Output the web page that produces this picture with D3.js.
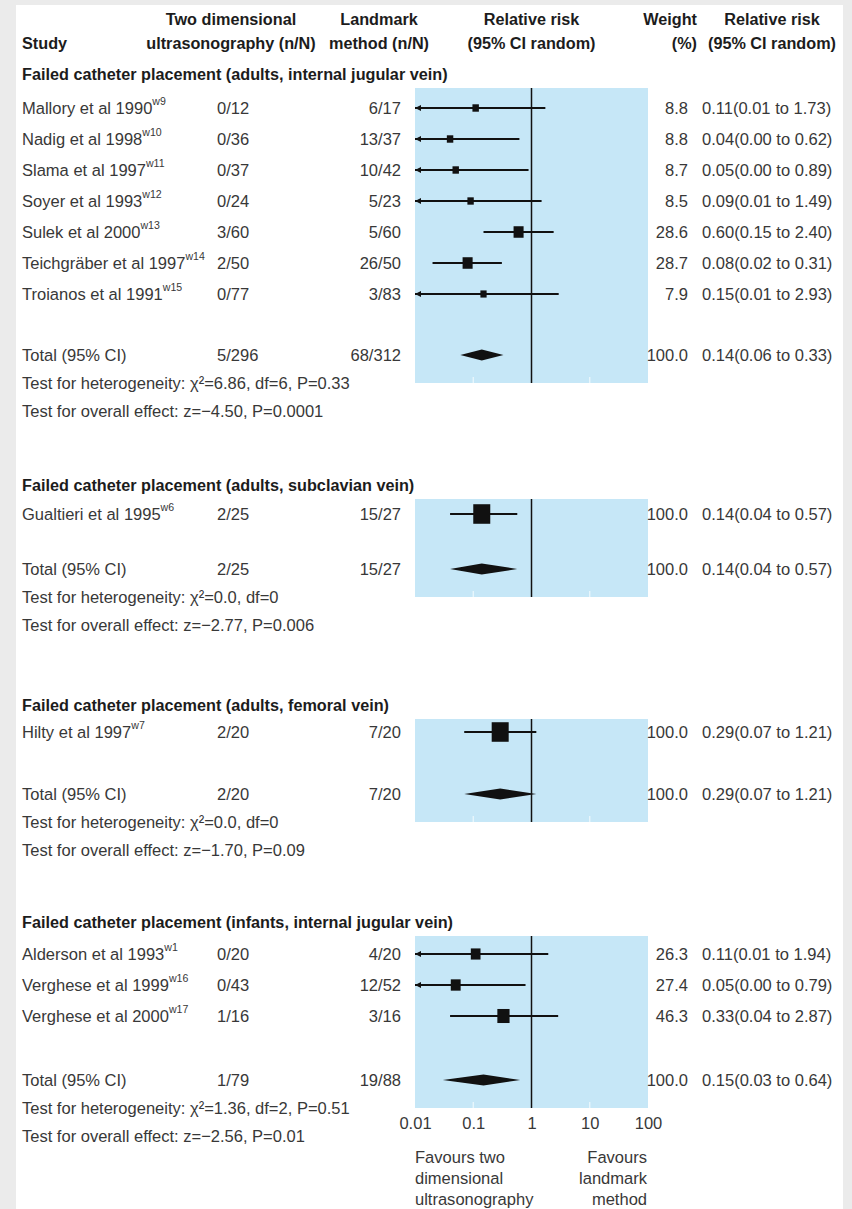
<!DOCTYPE html>
<html><head><meta charset="utf-8">
<script src="https://cdn.jsdelivr.net/npm/d3@7"></script>
<style>body{margin:0;background:#ebebeb} svg{display:block}</style>
</head><body><svg id="c" width="852" height="1209"></svg>
<script>
// ---------- data ----------
const groupTitles = [
  "Failed catheter placement (adults, internal jugular vein)",
  "Failed catheter placement (adults, subclavian vein)",
  "Failed catheter placement (adults, femoral vein)",
  "Failed catheter placement (infants, internal jugular vein)"
];
const studyGroup = [0,0,0,0,0,0,0,1,2,3,3,3];
const studyNames = ["Mallory et al 1990","Nadig et al 1998","Slama et al 1997","Soyer et al 1993","Sulek et al 2000","Teichgräber et al 1997","Troianos et al 1991","Gualtieri et al 1995","Hilty et al 1997","Alderson et al 1993","Verghese et al 1999","Verghese et al 2000"];
const studyRefs = ["w9","w10","w11","w12","w13","w14","w15","w6","w7","w1","w16","w17"];
const usEvents = ["0/12","0/36","0/37","0/24","3/60","2/50","0/77","2/25","2/20","0/20","0/43","1/16"];
const lmEvents = ["6/17","13/37","10/42","5/23","5/60","26/50","3/83","15/27","7/20","4/20","12/52","3/16"];
const studyWeight = [8.8,8.8,8.7,8.5,28.6,28.7,7.9,100.0,100.0,26.3,27.4,46.3];
const studyRR = [0.11,0.04,0.05,0.09,0.60,0.08,0.15,0.14,0.29,0.11,0.05,0.33];
const studyLow = [0.01,0.00,0.00,0.01,0.15,0.02,0.01,0.04,0.07,0.01,0.00,0.04];
const studyHigh = [1.73,0.62,0.89,1.49,2.40,0.31,2.93,0.57,1.21,1.94,0.79,2.87];

const totalUs = ["5/296","2/25","2/20","1/79"];
const totalLm = ["68/312","15/27","7/20","19/88"];
const totalWeight = [100.0,100.0,100.0,100.0];
const totalRR = [0.14,0.14,0.29,0.15];
const totalLow = [0.06,0.04,0.07,0.03];
const totalHigh = [0.33,0.57,1.21,0.64];
const hetText = ["Test for heterogeneity: χ²=6.86, df=6, P=0.33","Test for heterogeneity: χ²=0.0, df=0","Test for heterogeneity: χ²=0.0, df=0","Test for heterogeneity: χ²=1.36, df=2, P=0.51"];
const effectText = ["Test for overall effect: z=−4.50, P=0.0001","Test for overall effect: z=−2.77, P=0.006","Test for overall effect: z=−1.70, P=0.09","Test for overall effect: z=−2.56, P=0.01"];

const tickValues = [0.01,0.1,1,10,100];
const tickLabels = ["0.01","0.1","1","10","100"];
const favoursLeft = ["Favours two","dimensional","ultrasonography"];
const favoursRight = ["Favours","landmark","method"];

// ---------- layout ----------
const W = 852, H = 1209;
const titleY = [74, 485, 705, 922];
const firstRowY = [108, 514, 732, 954];
const rowStep = 31;
const totalY = [355, 569, 794, 1080];
const col = {study: 22, us: 217, lm: 401, plotL: 415, plotR: 648, weight: 688, rr: 702};

const svg = d3.select("#c");
svg.append("rect").attr("width", W).attr("height", H).attr("fill", "#ebebeb");
svg.append("rect").attr("x", 16).attr("y", 5).attr("width", 827).attr("height", H - 5).attr("fill", "#ffffff");

const FONT = "'Liberation Sans',Arial,Helvetica,sans-serif";
const FS = 17;
function measure(s, weight) {
  const t = svg.append("text").attr("font-family", FONT).attr("font-size", FS).attr("font-weight", weight).text(s);
  const w = t.node().getComputedTextLength(); t.remove(); return w;
}
const sxBody = 328 / measure(hetText[0], "normal");
const sxBold = 426 / measure(groupTitles[0], "bold");
const textCol = "#383838", boldCol = "#1c1c1c";

function txt(x, y, s, opts = {}) {
  return svg.append("text")
    .attr("transform", `translate(${x},${y}) scale(${opts.bold ? sxBold : sxBody},1)`)
    .attr("dy", "0.36em")
    .attr("font-family", FONT).attr("font-size", FS)
    .attr("font-weight", opts.bold ? "bold" : "normal")
    .attr("fill", opts.bold ? boldCol : textCol)
    .attr("text-anchor", opts.anchor || "start").text(s);
}

const x = d3.scaleLog().domain([0.01, 100]).range([col.plotL, col.plotR]);
const size = d3.scaleSqrt().domain([0, 100]).range([2, 17]);
const fmt = d3.format(".2f");

// header
const h1 = 19, h2 = 43;
txt(231, h1, "Two dimensional", {bold: true, anchor: "middle"});
txt(231, h2, "ultrasonography (n/N)", {bold: true, anchor: "middle"});
txt(379, h1, "Landmark", {bold: true, anchor: "middle"});
txt(379, h2, "method (n/N)", {bold: true, anchor: "middle"});
txt(x(1), h1, "Relative risk", {bold: true, anchor: "middle"});
txt(x(1), h2, "(95% CI random)", {bold: true, anchor: "middle"});
txt(697, h1, "Weight", {bold: true, anchor: "end"});
txt(697, h2, "(%)", {bold: true, anchor: "end"});
txt(772, h1, "Relative risk", {bold: true, anchor: "middle"});
txt(772, h2, "(95% CI random)", {bold: true, anchor: "middle"});
txt(col.study, h2, "Study", {bold: true});

// panels
groupTitles.forEach((g, gi) => {
  const top = titleY[gi] + 14, bot = totalY[gi] + 28;
  svg.append("rect").attr("x", x(0.01)).attr("y", top).attr("width", x(100) - x(0.01)).attr("height", bot - top).attr("fill", "#c6e7f7");
  [0.1, 10].forEach(t => svg.append("line").attr("x1", x(t)).attr("x2", x(t)).attr("y1", bot - 6).attr("y2", bot)
    .attr("stroke", "#eef8fd").attr("stroke-width", 1.2));
  svg.append("line").attr("x1", x(1)).attr("x2", x(1)).attr("y1", top).attr("y2", bot).attr("stroke", "#111").attr("stroke-width", 1.5);
  txt(col.study, titleY[gi], g, {bold: true});
});

// studies
const rowIdx = [0,0,0,0];
studyNames.forEach((name, i) => {
  const gi = studyGroup[i];
  const y = firstRowY[gi] + rowStep * rowIdx[gi]++;
  const t = txt(col.study, y, name);
  t.append("tspan").attr("font-size", FS * 0.64).attr("dy", "-0.8em").text(studyRefs[i]);
  txt(col.us, y, usEvents[i]);
  txt(col.lm, y, lmEvents[i], {anchor: "end"});
  txt(col.weight, y, studyWeight[i].toFixed(1), {anchor: "end"});
  txt(col.rr, y, `${fmt(studyRR[i])}(${fmt(studyLow[i])} to ${fmt(studyHigh[i])})`);
  const lo = Math.max(studyLow[i], 0.01), hi = Math.min(studyHigh[i], 100);
  svg.append("line").attr("x1", x(lo)).attr("x2", x(hi)).attr("y1", y).attr("y2", y).attr("stroke", "#111").attr("stroke-width", 1.8);
  if (studyLow[i] <= 0.01) {
    const x0 = x(0.01);
    svg.append("path").attr("d", `M${x0},${y}L${x0 + 6},${y - 3}L${x0 + 6},${y + 3}Z`).attr("fill", "#111");
  }
  const s = size(studyWeight[i]);
  svg.append("rect").attr("x", x(studyRR[i]) - s / 2).attr("y", y - s * 0.575).attr("width", s).attr("height", s * 1.15).attr("fill", "#111");
});

// totals & tests
groupTitles.forEach((g, gi) => {
  const y = totalY[gi];
  txt(col.study, y, "Total (95% CI)");
  txt(col.us, y, totalUs[gi]);
  txt(col.lm, y, totalLm[gi], {anchor: "end"});
  txt(col.weight, y, totalWeight[gi].toFixed(1), {anchor: "end"});
  txt(col.rr, y, `${fmt(totalRR[gi])}(${fmt(totalLow[gi])} to ${fmt(totalHigh[gi])})`);
  const xl = x(totalLow[gi]), xc = x(totalRR[gi]), xh = x(totalHigh[gi]);
  svg.append("path").attr("d", `M${xl},${y}L${xc},${y - 5.5}L${xh},${y}L${xc},${y + 5.5}Z`).attr("fill", "#111");
  txt(col.study, y + 28, hetText[gi]);
  txt(col.study, y + 56, effectText[gi]);
});

// axis
const axisY = totalY[3] + 28;
const axis = svg.append("g").attr("transform", `translate(0,${axisY})`)
  .call(d3.axisBottom(x).tickValues(tickValues).tickFormat((d, i) => tickLabels[i]).tickSize(0).tickPadding(9));
axis.select(".domain").remove();
axis.selectAll("text").attr("font-family", FONT).attr("font-size", FS).attr("fill", textCol)
  .attr("transform", `scale(${sxBody},1)`);

favoursLeft.forEach((s, i) => txt(col.plotL, 1157 + 21 * i, s));
favoursRight.forEach((s, i) => txt(col.plotR - 1, 1157 + 21 * i, s, {anchor: "end"}));
</script>
</body></html>
